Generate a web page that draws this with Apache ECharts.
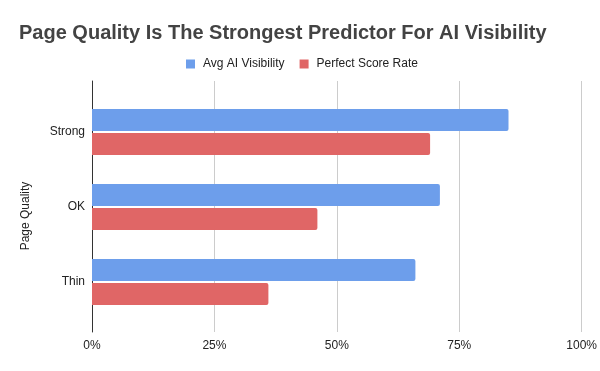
<!DOCTYPE html>
<html>
<head>
<meta charset="utf-8">
<script src="https://cdn.jsdelivr.net/npm/echarts@6/dist/echarts.min.js"></script>
<style>html,body{margin:0;padding:0;background:#fff}#c{width:600px;height:371px}</style>
</head>
<body>
<div id="c"></div>
<script>
const categories = ['Strong', 'OK', 'Thin'];
const avgAiVisibility = [0.85, 0.71, 0.66];
const perfectScoreRate = [0.69, 0.46, 0.36];
const seriesNames = ['Avg AI Visibility', 'Perfect Score Rate'];
const xTicks = [0, 0.25, 0.5, 0.75, 1];

const chart = echarts.init(document.getElementById('c'));
const font = 'Liberation Sans, Arial, sans-serif';
chart.setOption({
  animation: false,
  backgroundColor: '#fff',
  title: {
    text: 'Page Quality Is The Strongest Predictor For AI Visibility',
    left: 14, top: 18,
    textStyle: { fontFamily: font, fontSize: 20, fontWeight: 'bold', color: '#434343' }
  },
  legend: {
    data: seriesNames,
    left: 181, top: 53,
    itemWidth: 9, itemHeight: 9, itemGap: 15,
    icon: 'rect',
    textStyle: { fontFamily: font, fontSize: 12, color: '#222', padding: [0, 0, 0, 3] }
  },
  graphic: [{
    type: 'text', x: 20, y: 216, rotation: Math.PI / 2,
    style: { text: 'Page Quality', font: '12px ' + font, fill: '#222', textAlign: 'center', textVerticalAlign: 'top' }
  }],
  grid: [
    { left: 92, right: 18, top: 81, bottom: 39 },
    { left: 92, right: 18, top: 94.5, bottom: 51.5 }
  ],
  xAxis: [
    {
      gridIndex: 0, type: 'value', min: 0, max: 1, interval: 0.25,
      axisLine: { show: false }, axisTick: { show: false },
      splitLine: { lineStyle: { color: '#cccccc', width: 1 } },
      axisLabel: { margin: 8, fontFamily: font, fontSize: 12, color: '#222',
        formatter: v => Math.round(v * 100) + '%' }
    },
    { gridIndex: 1, type: 'value', min: 0, max: 1, show: false }
  ],
  yAxis: [
    {
      gridIndex: 0, type: 'category', data: [''],
      axisLine: { show: true, lineStyle: { color: '#333', width: 1 } },
      axisTick: { show: false }, axisLabel: { show: false }, splitLine: { show: false }
    },
    {
      gridIndex: 1, type: 'category', data: categories, inverse: true,
      axisLine: { show: false }, axisTick: { show: false },
      axisLabel: { margin: 7, fontFamily: font, fontSize: 12, color: '#222' }
    }
  ],
  series: [
    {
      name: seriesNames[0], type: 'bar', xAxisIndex: 1, yAxisIndex: 1,
      data: avgAiVisibility, barWidth: 22, barGap: '9%',
      itemStyle: { color: '#6d9eeb', borderRadius: [0, 2, 2, 0] }
    },
    {
      name: seriesNames[1], type: 'bar', xAxisIndex: 1, yAxisIndex: 1,
      data: perfectScoreRate, barWidth: 22, barGap: '9%',
      itemStyle: { color: '#e06666', borderRadius: [0, 2, 2, 0] }
    }
  ]
});
</script>
</body>
</html>
